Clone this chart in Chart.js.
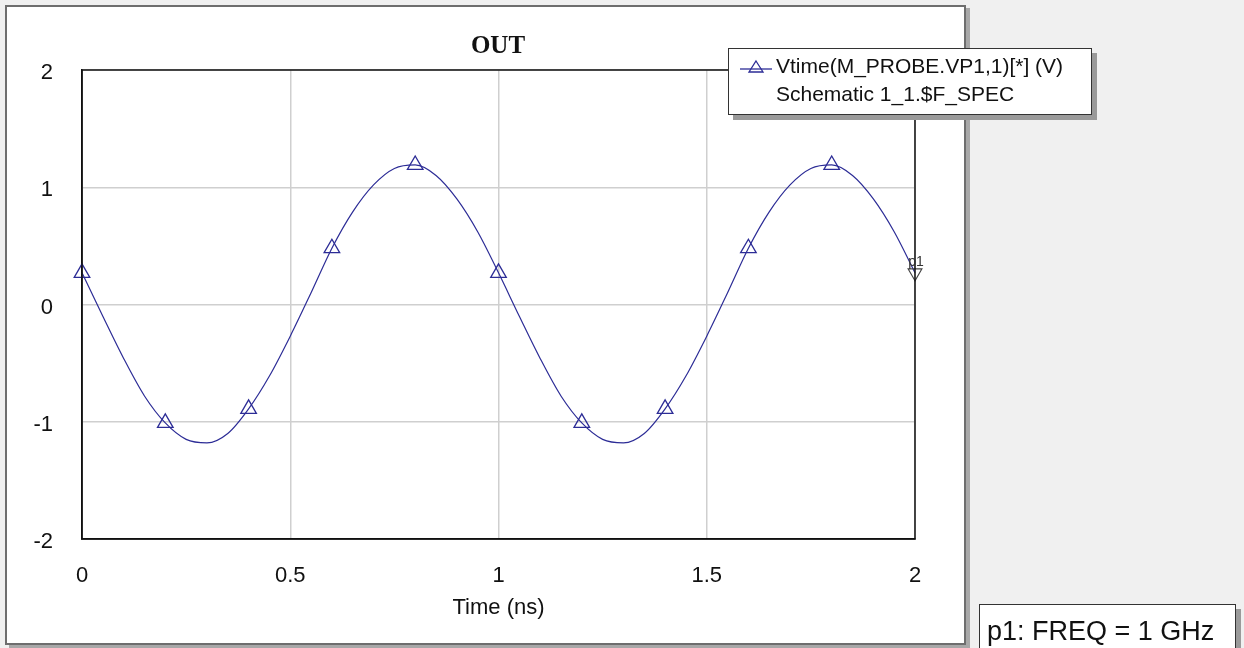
<!DOCTYPE html>
<html>
<head>
<meta charset="utf-8">
<script src="https://cdn.jsdelivr.net/npm/chart.js@4.4.1/dist/chart.umd.min.js"></script>
<style>
  html, body { margin: 0; padding: 0; background: #f0f0f0; }
  body { width: 1244px; height: 648px; position: relative; overflow: hidden; font-family: "Liberation Sans", Arial, sans-serif; }
  #panel { position: absolute; left: 5px; top: 5px; width: 961px; height: 640px; background: #fff; border: 2px solid #6e6e6e; box-shadow: 4px 3px 0 #a8a8a8; box-sizing: border-box; }
  #chart { position: absolute; left: 0; top: 0; }
  #title { position: absolute; left: 398px; width: 200px; top: 31px; text-align: center; font: bold 25px "Liberation Serif", "Times New Roman", serif; color: #111; }
  .box { position: absolute; background: #fff; border: 1px solid #333; box-shadow: 5px 5px 0 #9a9a9a; color: #111; }
  #legend { left: 728px; top: 48px; width: 364px; height: 67px; box-sizing: border-box; font-size: 21px; }
  #legend .l1 { position: absolute; left: 47px; top: 5px; white-space: nowrap; }
  #legend .l2 { position: absolute; left: 47px; top: 33px; white-space: nowrap; }
  #legend svg { position: absolute; left: 11px; top: 10px; }
  #marker { left: 979px; top: 604px; width: 257px; height: 60px; box-sizing: border-box; font-size: 27px; }
  #marker span { position: absolute; left: 7px; top: 11px; white-space: nowrap; }
</style>
</head>
<body>
<div id="panel"></div>
<canvas id="chart" width="1244" height="648"></canvas>
<div id="title">OUT</div>
<div id="legend" class="box">
  <svg width="32" height="16" viewBox="0 0 32 16"><line x1="0" y1="10" x2="32" y2="10" stroke="#2c2c96" stroke-width="1.3"/><polygon points="16,2 23,13 9,13" fill="none" stroke="#2c2c96" stroke-width="1.3"/></svg>
  <div class="l1">Vtime(M_PROBE.VP1,1)[*] (V)</div>
  <div class="l2">Schematic 1_1.$F_SPEC</div>
</div>
<div id="marker" class="box"><span>p1: FREQ = 1 GHz</span></div>
<script>
// time axis (ns) and the traced voltage
const timeNs = [0, 0.05, 0.1, 0.15, 0.2, 0.25, 0.3, 0.35, 0.4, 0.45, 0.5, 0.55, 0.6, 0.65, 0.7, 0.75, 0.8, 0.85, 0.9, 0.95,
                1.0, 1.05, 1.1, 1.15, 1.2, 1.25, 1.3, 1.35, 1.4, 1.45, 1.5, 1.55, 1.6, 1.65, 1.7, 1.75, 1.8, 1.85, 1.9, 1.95, 2.0];
const vOut = [0.27, -0.10, -0.46, -0.78, -1.01, -1.15, -1.18, -1.10, -0.89, -0.61, -0.27, 0.10, 0.48, 0.79, 1.02, 1.16, 1.19, 1.10, 0.90, 0.62,
              0.27, -0.10, -0.46, -0.78, -1.01, -1.15, -1.18, -1.10, -0.89, -0.61, -0.27, 0.10, 0.48, 0.79, 1.02, 1.16, 1.19, 1.10, 0.90, 0.62, 0.27];

// triangle symbols on the trace
const symbolTimes = [0, 0.2, 0.4, 0.6, 0.8, 1.0, 1.2, 1.4, 1.6, 1.8];
const symbolVals = [0.27, -1.01, -0.89, 0.48, 1.19, 0.27, -1.01, -0.89, 0.48, 1.19];

// marker p1
const markerName = 'p1';
const markerTime = 2;
const markerVal = 0.27;

const xTicks = [0, 0.5, 1, 1.5, 2];
const yTicks = [-2, -1, 0, 1, 2];

const traceColor = '#2c2c96';

const zip = (xs, ys) => xs.map((x, i) => ({x: x, y: ys[i]}));

// frame around the plot + marker name
const framePlugin = {
  id: 'frame',
  afterDatasetsDraw(chart) {
    const {ctx, chartArea: a, scales} = chart;
    ctx.save();
    ctx.strokeStyle = '#111';
    ctx.lineWidth = 1.5;
    ctx.strokeRect(a.left, a.top, a.right - a.left, a.bottom - a.top);
    ctx.fillStyle = '#333';
    ctx.font = '14px "Liberation Sans", Arial, sans-serif';
    ctx.textAlign = 'center';
    ctx.textBaseline = 'bottom';
    ctx.fillText(markerName, scales.x.getPixelForValue(markerTime) + 1, scales.y.getPixelForValue(markerVal) - 4);
    ctx.restore();
  }
};

new Chart(document.getElementById('chart'), {
  type: 'scatter',
  data: {
    datasets: [{
      label: 'Vtime(M_PROBE.VP1,1)[*] (V)',
      data: zip(timeNs, vOut),
      showLine: true,
      borderColor: traceColor,
      borderWidth: 1.2,
      pointRadius: 0,
      cubicInterpolationMode: 'monotone',
      order: 2
    }, {
      label: 'symbols',
      data: zip(symbolTimes, symbolVals),
      showLine: false,
      pointStyle: 'triangle',
      pointRadius: 9,
      pointBorderWidth: 1.3,
      pointBorderColor: traceColor,
      pointBackgroundColor: 'rgba(0,0,0,0)',
      order: 1
    }, {
      label: markerName,
      data: [{x: markerTime, y: markerVal}],
      showLine: false,
      pointStyle: 'triangle',
      rotation: 180,
      pointRadius: 8,
      pointBorderWidth: 1.1,
      pointBorderColor: '#444',
      pointBackgroundColor: 'rgba(0,0,0,0)',
      order: 0
    }]
  },
  options: {
    responsive: false,
    animation: false,
    clip: false,
    layout: { padding: { left: 0, top: 70, right: 329, bottom: 0 } },
    plugins: {
      legend: { display: false },
      tooltip: { enabled: false }
    },
    scales: {
      x: {
        type: 'linear',
        min: 0,
        max: 2,
        afterBuildTicks: (s) => { s.ticks = xTicks.map(v => ({value: v})); },
        afterFit: (s) => { s.height = 109; },
        grid: { color: '#cfcfcf', lineWidth: 1.5, drawTicks: false },
        border: { color: '#111', width: 1.5 },
        ticks: {
          padding: 24,
          color: '#111',
          font: { family: '"Liberation Sans", Arial, sans-serif', size: 22 },
          maxRotation: 0,
          callback: (v) => String(v)
        },
        title: {
          display: true,
          text: 'Time (ns)',
          color: '#111',
          font: { family: '"Liberation Sans", Arial, sans-serif', size: 22 },
          padding: { top: 0, bottom: 27 }
        }
      },
      y: {
        type: 'linear',
        min: -2,
        max: 2,
        afterBuildTicks: (s) => { s.ticks = yTicks.map(v => ({value: v})); },
        afterFit: (s) => { s.width = 82; },
        grid: { color: '#cfcfcf', lineWidth: 1.5, drawTicks: false },
        border: { color: '#111', width: 1.5 },
        ticks: {
          padding: 29,
          labelOffset: 3,
          color: '#111',
          font: { family: '"Liberation Sans", Arial, sans-serif', size: 22 },
          callback: (v) => String(v)
        }
      }
    }
  },
  plugins: [framePlugin]
});
</script>
</body>
</html>
